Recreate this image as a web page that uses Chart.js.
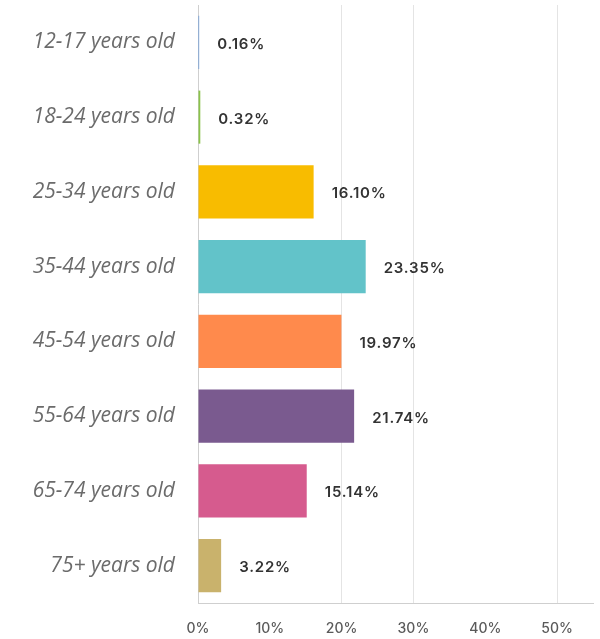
<!DOCTYPE html>
<html>
<head>
<meta charset="utf-8">
<script src="https://cdn.jsdelivr.net/npm/chart.js@4.4.1/dist/chart.umd.min.js"></script>
<style>
  html, body { margin: 0; padding: 0; background: #fff; }
  #wrap { width: 600px; height: 639px; position: relative; }
</style>
</head>
<body>
<div id="wrap"><canvas id="ageChart"></canvas></div>
<script>
const ageGroups = ['12-17 years old', '18-24 years old', '25-34 years old', '35-44 years old',
  '45-54 years old', '55-64 years old', '65-74 years old', '75+ years old'];
const sharePct = [0.16, 0.32, 16.10, 23.35, 19.97, 21.74, 15.14, 3.22];
const barColors = ['#5b8fd6', '#8bc34a', '#f8bc00', '#62c3c9', '#ff8a4c', '#7a5a8f', '#d65b8e', '#c9b26c'];
const tickValues = [0, 10, 20, 30, 40, 50];
const gridTicks = [20, 30, 50];

// Draw the value next to each bar
const valueLabels = {
  id: 'valueLabels',
  afterDatasetsDraw(chart) {
    const ctx = chart.ctx;
    const meta = chart.getDatasetMeta(0);
    ctx.save();
    ctx.font = '600 15px Inter';
    ctx.letterSpacing = '0.8px';
    ctx.fillStyle = '#333';
    ctx.textAlign = 'left';
    ctx.textBaseline = 'middle';
    meta.data.forEach((bar, i) => {
      ctx.fillText(sharePct[i].toFixed(2) + '%', bar.x + 18, bar.y + 2);
    });
    ctx.restore();
  }
};

const ctx = document.getElementById('ageChart').getContext('2d');
new Chart(ctx, {
  type: 'bar',
  data: {
    labels: ageGroups,
    datasets: [{
      data: sharePct,
      backgroundColor: barColors,
      borderWidth: 0,
      categoryPercentage: 0.71,
      barPercentage: 1
    }]
  },
  options: {
    indexAxis: 'y',
    responsive: true,
    maintainAspectRatio: false,
    animation: false,
    layout: { padding: { top: 5, right: 7, bottom: 0, left: 0 } },
    plugins: {
      legend: { display: false },
      tooltip: { enabled: false }
    },
    scales: {
      x: {
        min: 0,
        max: 55,
        afterBuildTicks: (scale) => {
          scale.ticks = tickValues.map(v => ({ value: v }));
        },
        afterFit: (scale) => {
          scale.height = 36;
          scale.paddingLeft = 0;
          scale.paddingRight = 0;
        },
        grid: {
          drawTicks: false,
          color: (c) => gridTicks.includes(c.tick && c.tick.value) ? '#e4e4e4' : 'rgba(0,0,0,0)'
        },
        border: { display: true, color: '#cfcfcf', width: 1 },
        ticks: {
          padding: 17,
          autoSkip: false,
          maxRotation: 0,
          color: '#5a5a5a',
          font: { family: 'Inter', size: 14, weight: '500' },
          callback: (v) => v + '%'
        }
      },
      y: {
        afterFit: (scale) => {
          scale.width = 198;
          scale.paddingTop = 0;
          scale.paddingBottom = 0;
        },
        grid: { display: false, drawTicks: false },
        border: { display: true, color: '#cfcfcf', width: 1 },
        ticks: {
          padding: 23,
          color: '#6b6b6b',
          font: { family: 'Open Sans', size: 21, style: 'italic' }
        }
      }
    }
  },
  plugins: [valueLabels]
});
</script>
</body>
</html>
